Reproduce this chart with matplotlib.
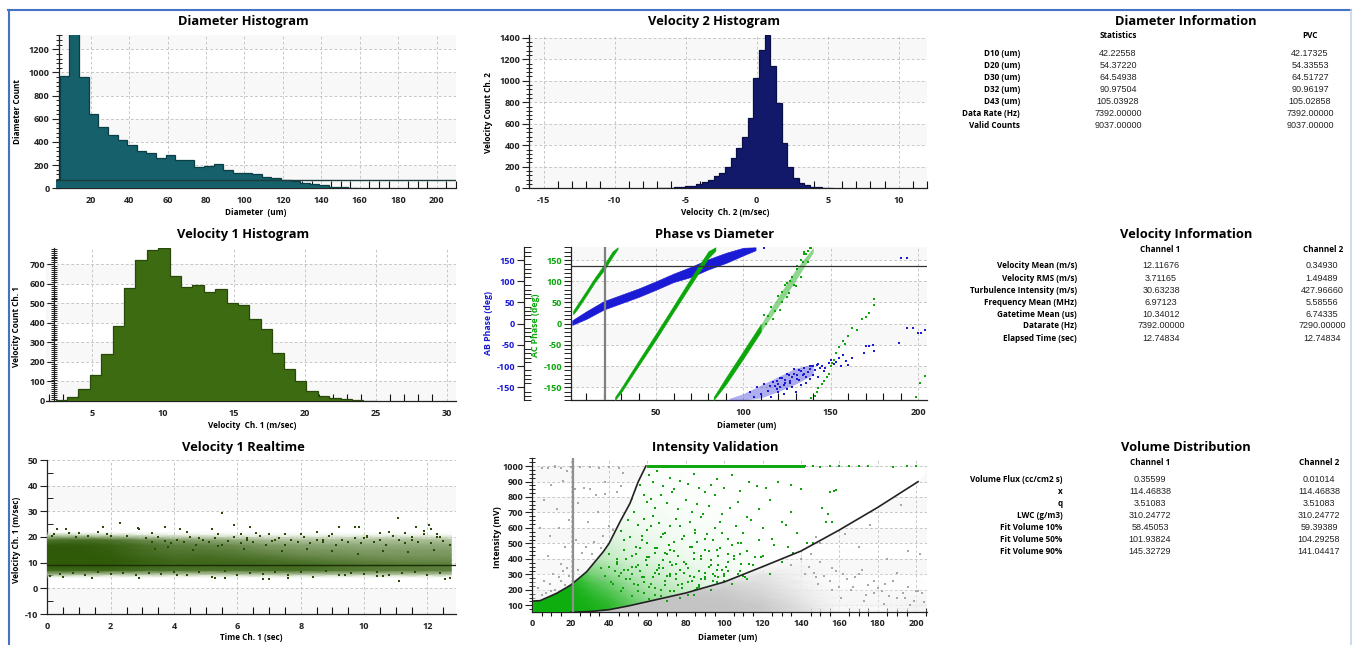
import numpy as np
import matplotlib
matplotlib.use("Agg")
import matplotlib.pyplot as plt
from matplotlib.colors import LinearSegmentedColormap
from matplotlib.patches import Polygon
from matplotlib.lines import Line2D
from matplotlib.ticker import MultipleLocator

W, H = 1353, 645
plt.rcParams['font.family'] = ['Open Sans', 'DejaVu Sans']
plt.rcParams['font.weight'] = 'bold'
plt.rcParams['axes.unicode_minus'] = False

# ---------------- histogram data
diam_start, diam_step = -1.0, 5.0
diam_counts = [70, 970, 1340, 960, 640, 525, 460, 420, 375, 325, 305, 265, 285, 240, 240, 180,
               195, 210, 160, 130, 130, 125, 100, 85, 70, 65, 50, 40, 25, 12, 8, 3]
v2_start, v2_step = -7.04, 0.4
v2_counts = [5, 0, 3, 10, 15, 18, 25, 40, 55, 80, 115, 140, 200, 285, 375, 480, 655, 1025, 1285,
             1425, 1140, 795, 425, 195, 100, 45, 30, 15, 8, 5, 5]
v1_start, v1_step = 2.46, 0.803
v1_counts = [3, 22, 62, 132, 240, 382, 580, 720, 775, 782, 640, 585, 595, 560, 573, 500, 490, 420,
             368, 245, 162, 100, 50, 28, 15, 8, 7, 2]

# ---------------- phase data (bands as envelopes)
ac1_x = [2.5, 5, 10, 15, 20.5, 25, 28]
ac1_lo = [22, 35, 66, 98, 128, 158, 176]
ac1_hi = [30, 46, 77, 109, 141, 170, 180]
ac2_x = [26.5, 30, 40, 50, 60, 70, 80, 84]
ac2_lo = [-180, -162, -99, -37, 28, 92, 155, 172]
ac2_hi = [-173, -152, -87, -23, 42, 108, 171, 180]
ac3_x = [83, 90, 100, 110]
ac3_lo = [-180, -143, -82, -19]
ac3_hi = [-173, -127, -64, -1]
ac3b_x = [110, 120, 130, 140]
ac3b_lo = [-19, 40, 102, 168]
ac3b_hi = [-1, 64, 128, 180]
ab1_x = [2, 10, 20, 30, 40, 50, 60, 70, 80, 90, 100, 107]
ab1_lo = [-3, 11, 33, 48, 63, 80, 98, 110, 128, 143, 161, 173]
ab1_hi = [8, 29, 53, 68, 83, 100, 118, 134, 152, 167, 179, 180]
ab2_x = [92, 100, 110, 120, 130, 140]
ab2_lo = [-180, -180, -175, -160, -142, -120]
ab2_hi = [-176, -165, -145, -125, -105, -95]
ac_stray_x = [133, 135, 137, 138, 139, 141, 142, 143, 145, 146, 148, 149, 150, 151, 152, 153, 155, 157, 158, 160,
              162, 165, 168, 170, 172, 175, 175, 199, 201, 204, 125, 128, 131, 134, 136, 122,
              112, 114, 116, 118, 120, 122, 124, 126, 127, 129, 131, 133, 135, 137, 139, 113, 117, 121, 125, 130]
ac_stray_y = [150, 165, 172, 178, -175, -170, -160, -152, -142, -135, -125, -118, -100, -92, -85, -70, -55, -42, -48,
              -30, -10, -15, 10, 15, 25, 45, 57, -172, -140, -124, 95, 110, 130, 145, 165, 75,
              20, 18, 40, 30, 66, 50, 90, 72, 100, 92, 136, 110, 170, 146, 178, -1, 12, 33, 62, 88]
ab_stray_x = [112, 150, 152, 153, 155, 156, 157, 159, 160, 162, 169, 170, 172, 174, 175, 189, 190, 194, 194, 197,
              200, 202, 204, 147, 149, 143, 138, 133,
              104, 106, 108, 110, 112, 114, 116, 118, 119, 120, 121, 122, 123, 124, 125, 126, 127, 128, 129, 130,
              131, 132, 133, 134, 135, 136, 137, 138, 139, 140, 141, 142, 143, 144, 145, 146,
              115, 117, 119, 120, 121, 123, 124, 125, 127, 128, 129, 131, 132, 133, 135, 136, 138, 140]
ab_stray_y = [178, -85, -95, -90, -80, -100, -75, -88, -98, -80, -70, -52, -52, -51, -65, -45, 155, 155, -10, -10,
              -22, -22, -16, -105, -92, -96, -100, -112,
              -160, -172, -150, -165, -142, -158, -172, -148, -135, -160, -150, -128, -165, -140, -155, -122, -135, -150,
              -118, -160, -130, -110, -145, -120, -105, -140, -115, -130, -100, -120, -110, -97, -125, -105, -100, -112,
              -148, -138, -155, -142, -128, -145, -132, -118, -140, -125, -108, -122, -132, -112, -118, -125, -108, -100]

# ---------------- realtime data (density table read by eye, marks read one by one)
rt_time = [0, 1, 2, 3, 4, 5, 6, 7, 8, 9, 10, 11, 12, 12.75]
rt_vel = [4, 5.5, 7, 9, 11, 13, 15, 17, 19, 20.5, 22]
rt_density = [
    [0, 0, 0, 0, 0, 0, 0, 0, 0, 0, 0, 0, 0, 0],
    [.40, .35, .30, .30, .28, .28, .30, .30, .32, .30, .30, .30, .30, .30],
    [.90, .90, .90, .85, .82, .82, .82, .85, .85, .80, .78, .75, .75, .75],
    [1.0, 1.0, 1.0, .95, .92, .92, .92, .90, .90, .85, .82, .80, .78, .78],
    [1.0, 1.0, 1.0, .95, .90, .90, .88, .85, .80, .75, .72, .68, .68, .68],
    [1.0, 1.0, .98, .90, .85, .85, .80, .75, .68, .65, .62, .60, .60, .60],
    [1.0, 1.0, .96, .88, .80, .78, .74, .65, .60, .58, .55, .55, .55, .55],
    [.98, .98, .94, .84, .74, .70, .64, .55, .50, .48, .46, .46, .46, .46],
    [.80, .85, .80, .65, .52, .48, .40, .32, .30, .30, .30, .32, .32, .30],
    [.30, .30, .26, .20, .15, .15, .12, .10, .10, .10, .10, .12, .10, .08],
    [0, 0, 0, 0, 0, 0, 0, 0, 0, 0, 0, 0, 0, 0],
]
rt_stray_t = [1.75, 2.3, 5.5, 5.9, 6.4, 3.7, 2.9, 4.2, 0.3, 0.6, 1.0, 1.6, 5.2, 8.5, 9.2, 9.7, 9.85, 10.8, 11.08, 11.65,
              12.05, 12.1, 11.9, 12.3, 7.0, 2.85, 3.3, 4.4, 5.4, 6.1, 6.6, 7.5, 8.0, 9.0, 10.1, 10.5, 11.3,
              11.1, 7.0, 6.8, 12.55, 12.7, 5.3, 5.6, 2.9, 1.4, 7.6, 8.4, 10.4, 10.6, 0.1, 0.5, 4.1, 9.4,
              0.15, 0.9, 2.0, 3.5, 4.8, 6.3, 7.2, 8.7, 10.0, 11.5, 12.4,
              3.1, 3.3, 3.5, 3.7, 3.9, 4.1, 4.3, 4.5, 4.7, 4.9, 5.1, 5.3, 5.5, 5.7, 5.9, 6.1, 6.3, 6.5, 6.7, 6.9,
              7.1, 7.3, 7.5, 7.7, 7.9, 8.1, 8.3, 8.5, 8.7, 8.9, 9.1, 9.3, 9.5, 9.7, 9.9, 10.1, 10.3, 10.5, 10.7, 10.9,
              11.1, 11.3, 11.5, 11.7, 11.9, 12.1, 12.3, 12.5, 12.7,
              3.2, 3.6, 4.0, 4.4, 4.8, 5.2, 5.6, 6.0, 6.4, 6.8, 7.2, 7.6, 8.0, 8.4, 8.8, 9.2, 9.6, 10.0, 10.4, 10.8,
              11.2, 11.6, 12.0, 12.4, 0.4, 0.8, 1.2, 1.6, 2.0, 2.4, 2.8,
              0.2, 0.7, 1.3, 1.9, 2.5, 3.4, 3.8, 4.6, 5.4, 6.2, 7.4, 8.2, 9.0, 9.8, 10.6, 11.4, 12.2]
rt_stray_y = [24, 25.5, 29.5, 24.5, 24, 24, 23, 23, 23, 23, 21.5, 22, 23, 22, 24, 24, 23.8, 22, 27.5, 24,
              24.5, 23, 22.5, 21, 21, 23.5, 21.5, 22, 21, 21, 21.5, 21, 21, 21, 20.5, 21.5, 21.5,
              3, 3.5, 3.5, 3.5, 4, 4, 4, 4, 4, 4, 4.5, 4.8, 4.8, 4.8, 4.5, 5, 5,
              20.5, 20, 20.5, 20, 19.5, 19.5, 19, 19, 19.5, 19, 20,
              19.5, 18, 20, 18.5, 17.5, 19, 18, 20, 17, 19, 18, 19.5, 17, 18.5, 20, 17.5, 19, 18, 20.5, 17,
              18.5, 19.5, 17, 19, 18, 20, 17.5, 19, 18, 20.5, 17, 19, 18, 19.5, 17.5, 20, 18, 19, 17, 20.5,
              19, 17.5, 20, 18, 21, 17.5, 20, 18.5, 17,
              6, 5.5, 6.5, 5, 6.2, 4.6, 6.8, 5.2, 6, 5.5, 6.4, 5, 6.2, 4.4, 6.8, 5.2, 6, 5.5, 6.4, 5, 5.8, 6.5, 5.2, 6,
              5.4, 6, 5.2, 6.3, 5.5, 6.1, 5,
              21, 21.5, 20.5, 21, 20.5, 15.5, 16, 15, 16.5, 15.5, 14.5, 15.5, 14.5, 13.5, 14.5, 14, 15]

# ---------------- intensity data
upper_x = [0.5, 4, 12.7, 20, 28.3, 37, 40, 45.7, 50.9, 55.2, 59.2]
upper_y = [128, 130, 178, 231, 317, 447, 500, 640, 759, 899, 1000]
lower_x = [20, 30, 40, 50, 60, 80, 100, 120, 140, 160, 180, 201]
lower_y = [55, 60, 72, 96, 124, 180, 251, 350, 451, 587, 733, 899]
grid_x = [0, 10, 20, 30, 40, 50, 60, 70, 80, 90, 100, 110, 120, 130, 140, 160, 205]
grid_y = [55, 100, 150, 200, 250, 300, 400, 500, 600, 700, 800, 900, 990]
green_density = [
    [1, 1, 1, .98, .9, .6, .35, .15, .05, 0, 0, 0, 0, 0, 0, 0, 0],
    [1, 1, 1, .95, .88, .7, .52, .35, .22, .1, 0, 0, 0, 0, 0, 0, 0],
    [1, 1, 1, .92, .8, .62, .45, .34, .24, .14, .08, 0, 0, 0, 0, 0, 0],
    [1, 1, 1, .85, .7, .52, .38, .3, .22, .15, .1, .06, 0, 0, 0, 0, 0],
    [1, 1, .95, .75, .6, .42, .3, .24, .18, .12, .08, .04, .02, 0, 0, 0, 0],
    [1, 1, .9, .6, .45, .32, .24, .18, .13, .1, .06, .04, .02, 0, 0, 0, 0],
    [0, 0, .6, .35, .25, .18, .14, .1, .08, .06, .04, .03, .01, 0, 0, 0, 0],
    [0, 0, 0, .25, .18, .12, .1, .07, .05, .04, .03, .02, .01, 0, 0, 0, 0],
    [0, 0, 0, 0, .1, .08, .06, .05, .04, .03, .02, .01, 0, 0, 0, 0, 0],
    [0, 0, 0, 0, .08, .05, .05, .04, .03, .02, .01, .01, 0, 0, 0, 0, 0],
    [0, 0, 0, 0, 0, .03, .03, .02, .02, .01, .01, 0, 0, 0, 0, 0, 0],
    [0, 0, 0, 0, 0, .02, .02, .02, .01, .01, .01, 0, 0, 0, 0, 0, 0],
    [0, 0, 0, 0, 0, .02, .02, .01, .01, .01, 0, 0, 0, 0, 0, 0, 0],
]
gray_x = [0, 20, 40, 60, 80, 100, 120, 140, 160, 180, 205]
gray_y = [55, 100, 150, 200, 250, 300, 350, 400, 500]
gray_density = [
    [.25, .5, 1, 1, 1, 1, .9, .6, .25, .18, .28],
    [.2, .3, 1, 1, 1, 1, .9, .5, .2, .18, .28],
    [.15, .18, .3, 1, 1, .95, .75, .4, .15, .1, .15],
    [.15, .2, .1, .4, .9, .85, .65, .35, .12, .08, .06],
    [.1, .18, .08, .05, .2, .65, .55, .3, .1, .05, .03],
    [.03, .08, .05, .02, .05, .15, .45, .25, .06, .03, .02],
    [0, .03, .03, 0, .02, .05, .15, .2, .05, .02, .02],
    [0, 0, .02, 0, 0, .02, .05, .08, .03, .01, .01],
    [0, 0, 0, 0, 0, 0, 0, .01, .01, .01, .01],
]
top_x = [60, 142]
top_lo = [986, 986]
top_hi = [1004, 1004]
green_pts_x = [61, 63, 65, 68, 72, 74, 77, 81, 84, 87, 90, 93, 96, 100, 104, 108, 113, 117, 122, 128, 135, 140,
               56, 58, 60, 62, 64, 67, 70, 73, 76, 80, 83, 86, 89, 92, 95, 99, 103, 107, 112, 118, 124, 130, 135,
               50, 53, 55, 58, 60, 63, 66, 69, 72, 75, 79, 82, 85, 88, 91, 95, 98, 102, 106, 110, 114, 120, 125, 132, 138,
               46, 48, 51, 54, 57, 60, 64, 67, 71, 74, 78, 82, 86, 90, 94, 98, 102, 107, 112, 118, 126, 133, 143, 146,
               40, 44, 48, 52, 56, 60, 64, 68, 72, 76, 80, 84, 88, 93, 97, 102, 108, 113, 119,
               36, 40, 44, 48, 52, 56, 60, 64, 68, 72, 77, 82, 87, 92, 97, 102, 107, 112,
               153, 154, 155, 157, 158, 151, 156,
               146, 150, 155, 160, 165, 170, 175, 188, 195, 200, 142,
               54, 57, 59, 62, 65, 68, 70, 74, 77, 79, 83, 85, 88, 90, 93, 96, 99, 101, 105, 109,
               52, 55, 58, 61, 63, 66, 69, 72, 75, 78, 81, 84, 87, 90, 94, 97, 100, 104, 108, 111,
               42, 45, 47, 50, 53, 55, 58, 61, 64, 66, 69, 72, 75, 78, 81, 84, 87, 90, 93, 96, 100,
               44, 46, 49, 51, 54, 57, 59, 62, 65, 67, 70, 73, 76, 79, 83, 86, 90, 95,
               38, 41, 43, 46, 49, 52, 55, 58, 61, 64, 67, 70, 74, 77, 81, 85,
               66, 69, 72, 75, 79, 84, 88, 92, 96, 100, 105, 110, 115, 120, 124, 130, 136, 94, 99, 104, 109, 116]
green_pts_y = [945, 900, 965, 870, 925, 850, 905, 885, 950, 860, 835, 880, 915, 860, 945, 840, 895, 870, 855, 900, 880, 850,
               880, 810, 770, 790, 730, 810, 760, 830, 720, 780, 700, 755, 690, 740, 810, 690, 730, 770, 670, 720, 780, 640, 700,
               650, 700, 620, 660, 590, 680, 630, 570, 610, 660, 550, 640, 590, 670, 560, 600, 640, 530, 610, 570, 650, 600, 530, 620, 570,
               580, 520, 540, 480, 550, 500, 470, 540, 490, 450, 530, 480, 510, 460, 520, 470, 430, 500, 450, 520, 490, 480, 500, 505,
               430, 400, 460, 420, 470, 410, 440, 390, 460, 420, 370, 440, 400, 360, 420, 380, 430, 370, 410,
               340, 350, 370, 330, 350, 320, 360, 310, 340, 300, 330, 290, 320, 350, 280, 320, 300, 270,
               640, 690, 830, 840, 845, 730, 640,
               1000, 995, 998, 1000, 999, 1000, 998, 997, 998, 999, 1000,
               430, 520, 390, 610, 470, 560, 430, 510, 610, 380, 480, 570, 420, 530, 390, 460, 570, 350, 420, 500,
               300, 360, 250, 410, 280, 340, 260, 380, 300, 240, 340, 280, 220, 310, 260, 360, 290, 240, 320, 280,
               240, 290, 210, 330, 240, 190, 280, 220, 170, 300, 230, 190, 270, 210, 250, 170, 230, 280, 200, 250, 300,
               380, 310, 400, 270, 350, 280, 390, 240, 330, 200, 290, 360, 230, 310, 260, 210, 270, 290,
               290, 250, 320, 190, 270, 160, 230, 180, 140, 210, 160, 130, 190, 150, 170, 200,
               360, 440, 290, 370, 310, 400, 270, 450, 330, 260, 400, 290, 360, 420, 300, 380, 440, 300, 330, 490, 370, 410]
gray_pts_x = [5, 8, 12, 15, 18, 25, 30, 35, 40, 45, 10, 16, 22, 27, 33, 38, 44, 47, 6, 13, 19, 24, 29, 34, 40,
              4, 9, 14, 17, 23, 28, 32, 37, 42, 8, 15, 21, 26, 31, 36,
              145, 150, 156, 162, 168, 172, 178, 184, 190, 196, 201, 148, 155, 160, 166, 174, 180, 186, 193, 199,
              150, 163, 176, 192, 148, 170, 185, 196, 202, 12, 20, 30, 38, 46, 52, 24, 36,
              3, 6, 9, 11, 14, 16, 19, 7, 12, 17, 21, 5, 10, 15, 18, 140, 144, 147, 152, 158, 164, 170, 175, 182, 188, 194, 200, 204,
              135, 142, 149, 156, 161, 167, 173, 178, 183, 190, 197, 203]
gray_pts_y = [990, 985, 995, 990, 970, 995, 995, 990, 995, 990, 880, 905, 850, 860, 810, 900, 830, 955, 780, 720, 650,
              760, 640, 700, 610, 600, 550, 600, 480, 520, 480, 510, 550, 590, 420, 370, 390, 440, 430, 470,
              430, 380, 340, 300, 280, 330, 260, 240, 310, 220, 190, 280, 260, 220, 200, 170, 210, 160, 180, 130,
              500, 560, 620, 750, 540, 480, 400, 450, 430, 1000, 995, 850, 820, 870, 790, 330, 270,
              210, 260, 240, 300, 280, 320, 290, 180, 200, 230, 310, 170, 190, 260, 340, 400, 350, 310, 290, 320, 270, 300, 230, 190, 260, 150, 190, 120,
              360, 300, 240, 200, 150, 220, 130, 180, 110, 150, 100, 180]

# ---------------- table data
diam_rows = ["D10 (um)", "D20 (um)", "D30 (um)", "D32 (um)", "D43 (um)", "Data Rate (Hz)", "Valid Counts"]
diam_stat = ["42.22558", "54.37220", "64.54938", "90.97504", "105.03928", "7392.00000", "9037.00000"]
diam_pvc = ["42.17325", "54.33553", "64.51727", "90.96197", "105.02858", "7392.00000", "9037.00000"]
vel_rows = ["Velocity Mean (m/s)", "Velocity RMS (m/s)", "Turbulence Intensity (m/s)", "Frequency Mean (MHz)",
            "Gatetime Mean (us)", "Datarate (Hz)", "Elapsed Time (sec)"]
vel_ch1 = ["12.11676", "3.71165", "30.63238", "6.97123", "10.34012", "7392.00000", "12.74834"]
vel_ch2 = ["0.34930", "1.49489", "427.96660", "5.58556", "6.74335", "7290.00000", "12.74834"]
vol_rows = ["Volume Flux (cc/cm2 s)", "x", "q", "LWC (g/m3)", "Fit Volume 10%", "Fit Volume 50%", "Fit Volume 90%"]
vol_ch1 = ["0.35599", "114.46838", "3.51083", "310.24772", "58.45053", "101.93824", "145.32729"]
vol_ch2 = ["0.01014", "114.46838", "3.51083", "310.24772", "59.39389", "104.29258", "141.04417"]

# ---------------- styling
TICK_FS = 6.6
LABEL_FS = 5.9
TITLE_FS = 9.3
DARK = '#222222'
BAND = '#f8f8f8'
GRID = '#c2c2c2'

fig = plt.figure(figsize=(W / 100, H / 100), dpi=100, facecolor='white')


def px_text(x, y, s, **kw):
    kw.setdefault('ha', 'center')
    kw.setdefault('va', 'center')
    fig.text(x / W, 1 - y / H, s, **kw)


def make_axes(left, right, top, bottom, xlim, ylim):
    ax = fig.add_axes([left / W, 1 - bottom / H, (right - left) / W, (bottom - top) / H])
    ax.set_xlim(*xlim)
    ax.set_ylim(*ylim)
    ax.patch.set_alpha(0)
    for s in ['top', 'right']:
        ax.spines[s].set_visible(False)
    for s in ['left', 'bottom']:
        ax.spines[s].set_color(DARK)
        ax.spines[s].set_linewidth(0.9)
    ax.grid(True, which='major', linestyle=(0, (3, 2.5)), color=GRID, linewidth=0.65, zorder=1)
    ax.set_axisbelow(True)
    return ax


def style_ticks(ax, xmaj, xmin, ymaj, ymin, ydir='inout'):
    ax.xaxis.set_major_locator(MultipleLocator(xmaj))
    ax.xaxis.set_minor_locator(MultipleLocator(xmin))
    ax.yaxis.set_major_locator(MultipleLocator(ymaj))
    ax.yaxis.set_minor_locator(MultipleLocator(ymin))
    ax.tick_params(axis='x', which='major', length=0, labelsize=TICK_FS, pad=5.5, colors=DARK)
    ax.tick_params(axis='x', which='minor', direction='in', length=5, width=0.8, color='#111111', zorder=7)
    ax.tick_params(axis='y', which='major', length=5, width=0.8, labelsize=TICK_FS, pad=1.5, colors=DARK)
    ax.tick_params(axis='y', which='minor', direction=ydir, length=5 if ydir == 'inout' else 4, width=0.7, color=DARK)


def bands(ax, spans):
    for lo, hi in spans:
        ax.axhspan(lo, hi, color=BAND, lw=0, zorder=0)


def hist(ax, start, step, counts, fill, edge):
    edges = start + step * np.arange(len(counts) + 1)
    ax.stairs(counts, edges, fill=True, color=fill, zorder=3)
    ax.stairs(counts, edges, fill=False, color=edge, linewidth=0.9, zorder=3)


def dots(ax, x, y, color, s=0.8, z=5):
    ax.scatter(x, y, s=s, c=color, marker='s', linewidths=0, zorder=z)


# ---------------- Diameter histogram
ax = make_axes(56, 456, 35, 188.3, (2, 210), (0, 1323))
bands(ax, [(0, 200), (400, 600), (800, 1000), (1200, 1323)])
hist(ax, diam_start, diam_step, diam_counts, '#15606a', '#0b3f46')
ax.axhline(70, color='#1f3a3a', lw=1.0, zorder=4)
ax.spines['left'].set_position(('data', 3.4))
style_ticks(ax, 20, 5, 200, 40)
px_text(243, 21.7, "Diameter Histogram", fontsize=TITLE_FS)
px_text(256, 212.5, "Diameter  (um)", fontsize=LABEL_FS)
px_text(17.7, 112, "Diameter Count", fontsize=LABEL_FS, rotation=90)

# ---------------- Velocity 2 histogram
ax = make_axes(529.3, 927.3, 35, 188.3, (-16, 12), (0, 1425))
bands(ax, [(0, 200), (400, 600), (800, 1000), (1200, 1400)])
hist(ax, v2_start, v2_step, v2_counts, '#12196a', '#0a0f45')
style_ticks(ax, 5, 1, 200, 40)
px_text(714, 21.7, "Velocity 2 Histogram", fontsize=TITLE_FS)
px_text(725, 212.5, "Velocity  Ch. 2 (m/sec)", fontsize=LABEL_FS)
px_text(489, 113, "Velocity Count Ch. 2", fontsize=LABEL_FS, rotation=90)

# ---------------- Velocity 1 histogram
ax = make_axes(45.7, 456, 248.3, 401, (1.76, 30.66), (0, 782))
bands(ax, [(0, 100), (200, 300), (400, 500), (600, 700)])
hist(ax, v1_start, v1_step, v1_counts, '#3d6b12', '#28490a')
ax.spines['left'].set_position(('data', 2.35))
style_ticks(ax, 5, 1, 100, 10)
px_text(243, 234.7, "Velocity 1 Histogram", fontsize=TITLE_FS)
px_text(251.7, 425.7, "Velocity  Ch. 1 (m/sec)", fontsize=LABEL_FS)
px_text(17, 326.7, "Velocity Count Ch. 1", fontsize=LABEL_FS, rotation=90)

# ---------------- Phase vs Diameter
BLUE = '#1b1bd6'
GREEN = '#0aa60a'
ax = make_axes(571, 926.7, 247.3, 400, (1.3, 205), (-180, 180))
bands(ax, [(-150, -100), (-50, 0), (50, 100), (150, 180)])
style_ticks(ax, 50, 10, 50, 10, ydir='out')
ax.tick_params(axis='y', which='major', labelcolor=GREEN, length=5)
ax.tick_params(axis='y', which='minor', length=5)
ax.fill_between(ab1_x, ab1_lo, ab1_hi, color=BLUE, lw=0.4, zorder=3)
ax.fill_between(ab2_x, ab2_lo, ab2_hi, color=BLUE, lw=0, alpha=0.35, zorder=3)
dots(ax, ab_stray_x, ab_stray_y, BLUE, z=4)
ax.fill_between(ac1_x, ac1_lo, ac1_hi, color=GREEN, lw=0.4, zorder=4)
ax.fill_between(ac2_x, ac2_lo, ac2_hi, color=GREEN, lw=0.4, zorder=4)
ax.fill_between(ac3_x, ac3_lo, ac3_hi, color=GREEN, lw=0.4, zorder=4)
ax.fill_between(ac3b_x, ac3b_lo, ac3b_hi, color=GREEN, lw=0, alpha=0.45, zorder=4)
dots(ax, ac_stray_x, ac_stray_y, GREEN, z=4)
ax.axhline(136, color='#333333', lw=0.9, zorder=6)
ax.axvline(20.5, color='#808080', lw=1.6, zorder=6)
ax2 = ax.twinx()
ax2.set_ylim(-180, 180)
ax2.patch.set_alpha(0)
for s in ['top', 'right', 'bottom']:
    ax2.spines[s].set_visible(False)
ax2.yaxis.set_ticks_position('left')
ax2.spines['left'].set_position(('outward', 47 * 0.72))
ax2.spines['left'].set_color(DARK)
ax2.spines['left'].set_linewidth(0.9)
ax2.yaxis.set_major_locator(MultipleLocator(50))
ax2.yaxis.set_minor_locator(MultipleLocator(10))
ax2.tick_params(axis='y', which='major', length=5, width=0.8, labelsize=TICK_FS, pad=1.5, color=DARK, labelcolor=BLUE)
ax2.tick_params(axis='y', which='minor', direction='in', length=5, width=0.7, color=DARK)
px_text(715, 234.7, "Phase vs Diameter", fontsize=TITLE_FS)
px_text(747, 425.7, "Diameter (um)", fontsize=LABEL_FS)
px_text(489, 323, "AB Phase (deg)", fontsize=LABEL_FS + 0.4, rotation=90, color=BLUE)
px_text(536, 325, "AC Phase (deg)", fontsize=LABEL_FS + 0.4, rotation=90, color=GREEN)

# ---------------- Velocity 1 realtime
ax = make_axes(47.3, 456, 460, 614, (0, 12.9), (-10, 50))
bands(ax, [(-10, 0), (10, 20), (30, 40)])
style_ticks(ax, 2, 0.5, 10, 5, ydir='in')
rt_cmap = LinearSegmentedColormap.from_list('rt', ['#e6efdc', '#2f5a08'])
ax.pcolormesh(rt_time, rt_vel, rt_density, shading='gouraud', cmap=rt_cmap, vmin=0, vmax=1, zorder=3,
              alpha=np.clip(np.array(rt_density) * 3, 0, 1))
dots(ax, rt_stray_t, rt_stray_y, '#2b4a0a', s=1.3)
ax.axhline(9, color='#1c2e06', lw=1.0, zorder=6)
px_text(243, 447.3, "Velocity 1 Realtime", fontsize=TITLE_FS)
px_text(251, 638, "Time Ch. 1 (sec)", fontsize=LABEL_FS)
px_text(17, 540, "Velocity Ch. 1 (m/sec)", fontsize=LABEL_FS, rotation=90)

# ---------------- Intensity validation
ax = make_axes(532.3, 926.7, 458.3, 611.7, (0, 205.5), (59, 1050))
bands(ax, [(100, 200), (300, 400), (500, 600), (700, 800), (900, 1000)])
style_ticks(ax, 20, 5, 100, 25, ydir='inout')
ax.tick_params(axis='x', which='minor', direction='inout', length=6)
gray_cmap = LinearSegmentedColormap.from_list('gr', ['#ffffff', '#c4c4c4'])
green_cmap = LinearSegmentedColormap.from_list('gn', ['#ffffff', '#0fae0f'])
gray_mesh = ax.pcolormesh(gray_x, gray_y, gray_density, shading='gouraud', cmap=gray_cmap, vmin=0, vmax=1, zorder=2,
                          alpha=np.clip(np.array(gray_density) * 2.5, 0, 1))
green_mesh = ax.pcolormesh(grid_x, grid_y, green_density, shading='gouraud', cmap=green_cmap, vmin=0, vmax=1, zorder=3)
region = Polygon(list(zip(upper_x, upper_y)) + [(205, 1000), (205, 950)] + list(zip(lower_x, lower_y))[::-1] + [(0.5, 50)],
                 transform=ax.transData)
green_mesh.set_clip_path(region)
ax.fill_between(top_x, top_lo, top_hi, color='#10a810', lw=0, zorder=4)
dots(ax, gray_pts_x, gray_pts_y, '#a8a8a8', s=1.0, z=3.5)
dots(ax, green_pts_x, green_pts_y, '#10a010', s=1.5, z=5)
ax.plot(upper_x, upper_y, color='#222222', lw=1.2, zorder=6)
ax.plot(lower_x, lower_y, color='#222222', lw=1.2, zorder=6)
ax.axvline(21, color='#909090', lw=1.6, zorder=6)
px_text(715, 447.3, "Intensity Validation", fontsize=TITLE_FS)
px_text(728, 638, "Diameter (um)", fontsize=LABEL_FS)
px_text(497, 537, "Intensity (mV)", fontsize=LABEL_FS + 0.4, rotation=90)


# ---------------- information tables
def table(title, title_y, head_y, heads, head_x, val_x, label_right, rows_y, rows, col1, col2):
    px_text(1186, title_y, title, fontsize=TITLE_FS)
    for hx, h in zip(head_x, heads):
        px_text(hx, head_y, h, fontsize=LABEL_FS)
    for y, r, a, b in zip(rows_y, rows, col1, col2):
        px_text(label_right, y, r, ha='right', fontsize=LABEL_FS)
        px_text(val_x[0], y, a, fontsize=6.5, family=['Liberation Sans'], fontweight='normal', color='#222222')
        px_text(val_x[1], y, b, fontsize=6.5, family=['Liberation Sans'], fontweight='normal', color='#222222')


table("Diameter Information", 21.7, 35.7, ["Statistics", "PVC"], [1118, 1310], [1118, 1310], 1020,
      [53.3, 65.7, 77.7, 89.7, 101.3, 113.7, 125.7], diam_rows, diam_stat, diam_pvc)
table("Velocity Information", 234.7, 249.3, ["Channel 1", "Channel 2"], [1160, 1322.7], [1161, 1322], 1077,
      [266, 278.7, 290.7, 302.7, 314.7, 326, 338.3], vel_rows, vel_ch1, vel_ch2)
table("Volume Distribution", 447.3, 462.3, ["Channel 1", "Channel 2"], [1150, 1319], [1150, 1319], 1062.7,
      [479.3, 491.3, 503.3, 515.3, 528, 540, 551.7], vol_rows, vol_ch1, vol_ch2)

# ---------------- window border
for xs, ys, c, lw in [([8, 1351], [9.5, 9.5], '#4472c4', 1.5), ([8.5, 8.5], [9.5, 645], '#4472c4', 1.5),
                      ([1351, 1351], [9.5, 645], '#c5d5ee', 1.2)]:
    fig.add_artist(Line2D([x / W for x in xs], [1 - y / H for y in ys], color=c, lw=lw))

fig.savefig('out.png', dpi=100)
